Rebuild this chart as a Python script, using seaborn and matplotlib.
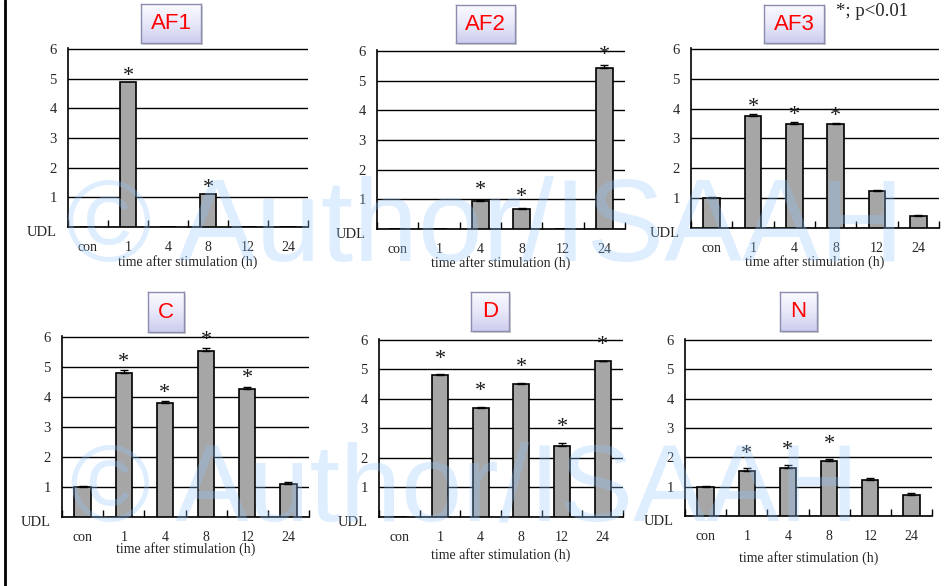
import numpy as np
import pandas as pd
import matplotlib
matplotlib.use('Agg')
import matplotlib.pyplot as plt
import seaborn as sns
from matplotlib.colors import LinearSegmentedColormap
from matplotlib.patches import Rectangle
from matplotlib.transforms import ScaledTranslation

# data (0 = below detection limit, UDL)
times = ['con', '1', '4', '8', '12', '24']

af1_vals = [0, 4.87, 0, 1.10, 0, 0]
af1_err = [0, 0, 0, 0, 0, 0]
af1_sig = [0, 1, 0, 1, 0, 0]

af2_vals = [0, 0, 0.94, 0.68, 0, 5.42]
af2_err = [0, 0, 0.03, 0.03, 0, 0.10]
af2_sig = [0, 0, 1, 1, 0, 1]

af3_vals = [1.01, 3.74, 3.50, 3.47, 1.24, 0.40]
af3_err = [0.02, 0.08, 0.05, 0.06, 0.03, 0.03]
af3_sig = [0, 1, 1, 1, 0, 0]

c_vals = [1.00, 4.81, 3.81, 5.54, 4.26, 1.10]
c_err = [0.03, 0.08, 0.04, 0.08, 0.07, 0.07]
c_sig = [0, 1, 1, 1, 1, 0]

d_vals = [0, 4.82, 3.69, 4.52, 2.41, 5.28]
d_err = [0, 0.01, 0.05, 0.02, 0.09, 0.02]
d_sig = [0, 1, 1, 1, 1, 1]

n_vals = [0.99, 1.54, 1.65, 1.86, 1.21, 0.70]
n_err = [0.04, 0.10, 0.10, 0.09, 0.08, 0.10]
n_sig = [0, 1, 1, 1, 0, 0]

panels = [
    ('AF1', af1_vals, af1_err, af1_sig),
    ('AF2', af2_vals, af2_err, af2_sig),
    ('AF3', af3_vals, af3_err, af3_sig),
    ('C', c_vals, c_err, c_sig),
    ('D', d_vals, d_err, d_sig),
    ('N', n_vals, n_err, n_sig),
]

sns.set_style('white')
plt.rcParams['font.family'] = ['Liberation Serif', 'DejaVu Serif']

W, H = 952, 586
fig = plt.figure(figsize=(W / 100, H / 100), dpi=100)

# axes boxes in pixels: left, right, top, bottom
rects = [(68, 308, 48, 227), (377, 625, 50, 229), (691, 939, 48, 228),
         (62, 309, 336, 517), (379, 623, 339, 517), (685, 932, 339, 516)]
# title boxes in pixels: left, top, width, height
boxes = [(141, 4, 60, 39), (456, 5, 59, 38), (764, 5, 60, 38),
         (148, 292, 36, 40), (471, 292, 38, 39), (780, 292, 37, 39)]
star_gap = [0.2, 0.34, 0.22, 0.27, 0.52, 0.47]
xlabel_y = [262, 263, 262, 549, 555, 558]

box_cmap = LinearSegmentedColormap.from_list('box', ['#fbfbff', '#e8e8fa', '#cdcdee'])

for i, (name, vals, err, sig) in enumerate(panels):
    l, r, t, b = rects[i]
    ax = fig.add_axes([l / W, 1 - b / H, (r - l) / W, (b - t) / H])
    df = pd.DataFrame({'time': times, 'value': vals})
    sns.barplot(data=df, x='time', y='value', order=times, ax=ax, color='#a6a6a6',
                saturation=1, width=0.4, edgecolor='black', linewidth=1.2,
                errorbar=None, zorder=3)

    x = np.arange(len(times))
    vals = np.array(vals, dtype=float)
    err = np.array(err, dtype=float)
    m = err > 0
    ax.errorbar(x[m], vals[m], yerr=[np.zeros(m.sum()), err[m]], fmt='none',
                ecolor='black', elinewidth=1, capsize=3, capthick=1, zorder=4)
    for xi, v, e, s in zip(x, vals, err, sig):
        if s:
            ax.text(xi, v + e + star_gap[i], '*', ha='center', va='center',
                    fontsize=16, color='#1a1a1a', zorder=5)

    ax.set_xlim(-0.5, 5.5)
    ax.set_ylim(0, 6.03)
    ax.set_yticks(range(7))
    ax.set_yticklabels(['UDL', '1', '2', '3', '4', '5', '6'])
    ax.yaxis.grid(True, color='black', linewidth=1)
    ax.set_axisbelow(True)
    ax.set_xticks(np.arange(-0.5, 6, 1), minor=True)
    ax.tick_params(axis='x', which='major', length=0, pad=10, labelsize=10)
    ax.tick_params(axis='x', which='minor', direction='in', length=5, width=1,
                   color='black', bottom=True)
    ax.tick_params(axis='y', length=0, pad=8, labelsize=10.5)
    udl = ax.get_yticklabels()[0]
    udl.set_transform(udl.get_transform() + ScaledTranslation(0, -4 / 100, fig.dpi_scale_trans))
    for sp in ['top', 'right']:
        ax.spines[sp].set_visible(False)
    for sp in ['left', 'bottom']:
        ax.spines[sp].set_color('black')
        ax.spines[sp].set_linewidth(1.2)
    ax.set_ylabel('')
    ax.set_xlabel('time after stimulation (h)', fontsize=10)
    ax.xaxis.set_label_coords(0.5, (b - xlabel_y[i]) / (b - t))
    ax.xaxis.label.set_va('center')

    # bevelled title box with a soft shadow behind it
    bx, by, bw, bh = boxes[i]
    fig.patches.append(Rectangle(((bx + 2) / W, 1 - (by + bh + 2) / H), bw / W, bh / H,
                                 transform=fig.transFigure, facecolor='#9a9a9a',
                                 alpha=0.45, edgecolor='none', zorder=-1))
    bax = fig.add_axes([bx / W, 1 - (by + bh) / H, bw / W, bh / H])
    bax.set_zorder(2)
    bax.imshow(np.linspace(0, 1, 60)[:, None], aspect='auto', cmap=box_cmap,
               extent=[0, 1, 0, 1])
    bax.set_xticks([])
    bax.set_yticks([])
    for sp in bax.spines.values():
        sp.set_color('#8c8cae')
        sp.set_linewidth(1)
    bax.text(0.5, 0.5, name, ha='center', va='center', color='#ff0000', fontsize=16,
             family=['Liberation Sans', 'DejaVu Sans'], transform=bax.transAxes)

fig.text(836 / W, 1 - 12 / H, '*; p<0.01', ha='left', va='center', fontsize=13.5)

# frame line at the left edge
fig.add_artist(plt.Line2D([5 / W, 5 / W], [0, 1], color='black', linewidth=2,
                          transform=fig.transFigure))

# watermark laid over everything
wm = dict(color=(0.58, 0.78, 1.0), alpha=0.3, family=['Liberation Sans', 'DejaVu Sans'],
          ha='left', va='baseline', zorder=10)
fig.text(66 / W, 1 - 261 / H, '\u00a9 Author/ISAAH', fontsize=84, **wm)
fig.text(70 / W, 1 - 521 / H, '\u00a9 Author/ISAAH', fontsize=79, **wm)

fig.savefig('out.png', dpi=100)
